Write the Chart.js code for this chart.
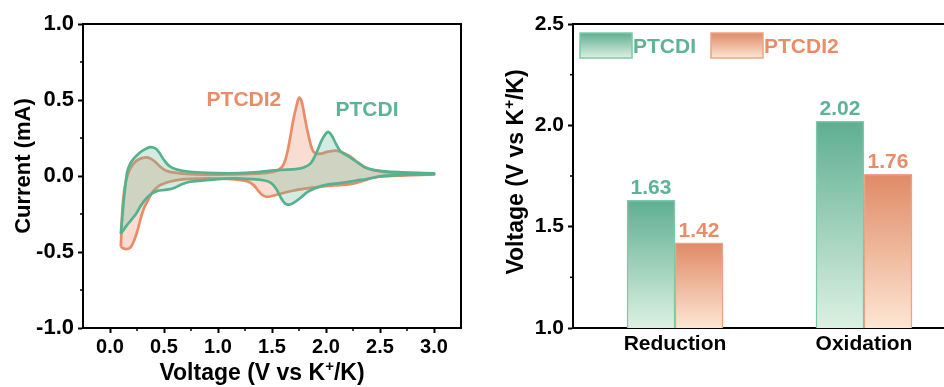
<!DOCTYPE html>
<html><head><meta charset="utf-8">
<script src="https://cdn.jsdelivr.net/npm/chart.js@4"></script>
<style>
html,body{margin:0;padding:0;background:#fff;overflow:hidden;width:944px;height:387px;}
#wrap{position:relative;width:944px;height:387px;overflow:hidden;}
#c1{position:absolute;left:0;top:0;}
#c2{position:absolute;left:480px;top:0;}
</style></head><body>
<div id="wrap"><canvas id="c1" width="480" height="387"></canvas><canvas id="c2" width="520" height="387"></canvas></div>
<script>
// ---- CV curves (closed loops: anodic scan then cathodic scan) ----
const ptcdiVoltage = [0.10,0.11,0.12,0.135,0.16,0.19,0.22,0.27,0.31,0.37,0.42,0.46,0.50,0.55,0.62,0.74,0.90,1.10,1.30,1.45,1.60,1.72,1.80,1.86,1.91,1.96,2.00,2.02,2.05,2.09,2.13,2.18,2.24,2.30,2.36,2.44,2.55,2.70,2.85,3.00,
  3.00,2.85,2.70,2.55,2.46,2.38,2.28,2.15,2.00,1.90,1.83,1.77,1.71,1.66,1.62,1.58,1.54,1.49,1.42,1.30,1.15,1.00,0.85,0.74,0.66,0.58,0.50,0.44,0.39,0.34,0.29,0.24,0.19,0.15,0.12,0.10];
const ptcdiCurrent = [-0.38,-0.30,-0.22,-0.11,0.03,0.085,0.115,0.15,0.17,0.19,0.182,0.15,0.105,0.065,0.042,0.028,0.021,0.018,0.022,0.032,0.040,0.045,0.058,0.085,0.15,0.235,0.28,0.29,0.27,0.215,0.165,0.14,0.115,0.085,0.058,0.040,0.030,0.024,0.020,0.018,
  0.012,0.010,0.007,0.002,-0.007,-0.020,-0.030,-0.045,-0.058,-0.080,-0.105,-0.140,-0.172,-0.188,-0.180,-0.140,-0.085,-0.045,-0.028,-0.020,-0.016,-0.020,-0.030,-0.038,-0.056,-0.082,-0.092,-0.098,-0.115,-0.145,-0.19,-0.25,-0.295,-0.33,-0.36,-0.38];
const ptcdi2Voltage = [0.10,0.105,0.11,0.12,0.14,0.17,0.21,0.26,0.31,0.34,0.38,0.42,0.47,0.52,0.60,0.75,0.95,1.15,1.30,1.42,1.51,1.57,1.61,1.64,1.67,1.70,1.73,1.75,1.77,1.79,1.81,1.84,1.87,1.90,1.95,2.02,2.09,2.15,2.22,2.29,2.36,2.44,2.55,2.70,2.85,3.00,
  3.00,2.80,2.60,2.50,2.42,2.36,2.28,2.19,2.08,1.97,1.82,1.67,1.56,1.49,1.45,1.41,1.37,1.33,1.27,1.20,1.05,0.90,0.75,0.65,0.56,0.50,0.45,0.40,0.37,0.34,0.31,0.28,0.25,0.22,0.19,0.16,0.13,0.11,0.10];
const ptcdi2Current = [-0.465,-0.38,-0.28,-0.17,-0.06,0.02,0.075,0.107,0.12,0.122,0.113,0.092,0.058,0.035,0.022,0.012,0.009,0.010,0.013,0.018,0.026,0.045,0.08,0.15,0.26,0.38,0.47,0.515,0.50,0.44,0.36,0.26,0.18,0.15,0.147,0.16,0.167,0.155,0.13,0.092,0.058,0.038,0.026,0.019,0.016,0.014,
  0.010,0.006,0.000,-0.005,-0.015,-0.028,-0.046,-0.057,-0.062,-0.069,-0.081,-0.100,-0.120,-0.133,-0.137,-0.125,-0.095,-0.060,-0.035,-0.026,-0.018,-0.016,-0.019,-0.024,-0.036,-0.050,-0.066,-0.100,-0.135,-0.175,-0.22,-0.29,-0.37,-0.43,-0.47,-0.48,-0.478,-0.47,-0.465];
const cvXTicks = [0, 0.5, 1.0, 1.5, 2.0, 2.5, 3.0];
const cvYTicks = [-1.0, -0.5, 0.0, 0.5, 1.0];

// ---- Bar chart ----
const categories = ['Reduction', 'Oxidation'];
const ptcdiPotential = [1.63, 2.02];
const ptcdi2Potential = [1.42, 1.76];
const barYTicks = [1.0, 1.5, 2.0, 2.5];

const FONT = '"Liberation Sans", Arial, Helvetica, sans-serif';
const GREEN_LINE = '#56b28e', ORANGE_LINE = '#e98c69';
const GREEN_FILL = 'rgba(98,184,150,0.28)', ORANGE_FILL = 'rgba(236,142,108,0.30)';
const GREEN_TEXT = '#5db394', ORANGE_TEXT = '#e88d69';
const G_TOP = '#5fae93', G_BOT = '#dcf1e1', O_TOP = '#e08a66', O_BOT = '#fde6d3';
const G_BORDER = '#7cc9aa', O_BORDER = '#eea383';

function toXY(xs, ys) { return xs.map((v, i) => ({x: v, y: ys[i]})); }

function drawKTitle(ctx, cx, baseline, rotated) {
  const parts = [['Voltage (V vs K', 23, 0], ['+', 15, -9], ['/K)', 23, 0]];
  ctx.save();
  ctx.fillStyle = '#000';
  ctx.textBaseline = 'alphabetic';
  ctx.textAlign = 'left';
  let total = 0;
  const ws = parts.map(p => { ctx.font = `bold ${p[1]}px ${FONT}`; const w = ctx.measureText(p[0]).width; total += w; return w; });
  if (rotated) { ctx.translate(baseline, cx); ctx.rotate(-Math.PI / 2); }
  else { ctx.translate(cx, baseline); }
  let xx = -total / 2;
  parts.forEach((p, i) => { ctx.font = `bold ${p[1]}px ${FONT}`; ctx.fillText(p[0], xx, p[2]); xx += ws[i]; });
  ctx.restore();
}

function seg(ctx, x1, y1, x2, y2) { ctx.beginPath(); ctx.moveTo(x1, y1); ctx.lineTo(x2, y2); ctx.stroke(); }

// ---------------- Left: CV chart ----------------
const cvPlugin = {
  id: 'cvDecor',
  afterDraw(chart) {
    const {ctx, chartArea: a, scales: {x, y}} = chart;
    ctx.save();
    ctx.strokeStyle = '#000'; ctx.lineWidth = 2;
    ctx.beginPath(); ctx.moveTo(a.left, a.top); ctx.lineTo(a.right, a.top); ctx.lineTo(a.right, a.bottom); ctx.stroke();
    ctx.lineWidth = 1.5;
    for (let i = 0; i < cvXTicks.length - 1; i++) {
      const px = x.getPixelForValue((cvXTicks[i] + cvXTicks[i + 1]) / 2);
      seg(ctx, px, a.bottom, px, a.bottom + 3);
    }
    for (let i = 0; i < cvYTicks.length - 1; i++) {
      const py = y.getPixelForValue((cvYTicks[i] + cvYTicks[i + 1]) / 2);
      seg(ctx, a.left, py, a.left - 3, py);
    }
    drawKTitle(ctx, 262, 380, false);
    ctx.save();
    ctx.translate(30, 166); ctx.rotate(-Math.PI / 2);
    ctx.font = `bold 22px ${FONT}`; ctx.fillStyle = '#000'; ctx.textAlign = 'center'; ctx.textBaseline = 'alphabetic';
    ctx.fillText('Current (mA)', 0, 0);
    ctx.restore();
    ctx.font = `bold 21px ${FONT}`; ctx.textAlign = 'center'; ctx.textBaseline = 'middle';
    ctx.fillStyle = ORANGE_TEXT; ctx.fillText('PTCDI2', x.getPixelForValue(1.24), y.getPixelForValue(0.50));
    ctx.fillStyle = GREEN_TEXT; ctx.fillText('PTCDI', x.getPixelForValue(2.38), y.getPixelForValue(0.435));
    ctx.restore();
  }
};

new Chart(document.getElementById('c1'), {
  type: 'scatter',
  data: {
    datasets: [
      {label: 'PTCDI', data: toXY(ptcdiVoltage, ptcdiCurrent), showLine: true, fill: 'shape',
       borderColor: GREEN_LINE, backgroundColor: GREEN_FILL, borderWidth: 2.7, tension: 0.35, pointRadius: 0},
      {label: 'PTCDI2', data: toXY(ptcdi2Voltage, ptcdi2Current), showLine: true, fill: 'shape',
       borderColor: ORANGE_LINE, backgroundColor: ORANGE_FILL, borderWidth: 2.7, tension: 0.35, pointRadius: 0}
    ]
  },
  options: {
    responsive: false, animation: false, devicePixelRatio: 1,
    layout: {padding: {left: 0, top: 24, right: 19, bottom: 0}},
    plugins: {legend: {display: false}, tooltip: {enabled: false}},
    scales: {
      x: {type: 'linear', min: -0.25, max: 3.25,
          afterBuildTicks: s => { s.ticks = cvXTicks.map(v => ({value: v})); },
          afterFit: s => { s.height = 59; },
          grid: {display: true, drawOnChartArea: false, drawTicks: true, tickLength: 5, tickWidth: 2, tickColor: '#000'},
          border: {display: true, color: '#000', width: 2},
          ticks: {padding: 2, color: '#000', font: {family: FONT, size: 20, weight: 'bold'}, maxRotation: 0, autoSkip: false, callback: v => Number(v).toFixed(1)}},
      y: {type: 'linear', min: -1, max: 1,
          afterBuildTicks: s => { s.ticks = cvYTicks.map(v => ({value: v})); },
          afterFit: s => { s.width = 83; },
          grid: {display: true, drawOnChartArea: false, drawTicks: true, tickLength: 5, tickWidth: 2, tickColor: '#000'},
          border: {display: true, color: '#000', width: 2},
          ticks: {padding: 4, color: '#000', font: {family: FONT, size: 22, weight: 'bold'}, autoSkip: false, callback: v => Number(v).toFixed(1)}}
    }
  },
  plugins: [cvPlugin]
});

// ---------------- Right: bar chart ----------------
function barGradient(top, bottom) {
  return (c) => {
    const chart = c.chart, a = chart.chartArea;
    if (!a || !c.raw || c.raw.y == null) return top;
    const yTop = chart.scales.y.getPixelForValue(c.raw.y);
    const g = chart.ctx.createLinearGradient(0, yTop, 0, a.bottom);
    g.addColorStop(0, top); g.addColorStop(1, bottom);
    return g;
  };
}

const barPlugin = {
  id: 'barDecor',
  afterDatasetsDraw(chart) {
    const {ctx} = chart;
    ctx.save();
    ctx.font = `bold 21px ${FONT}`; ctx.textAlign = 'center'; ctx.textBaseline = 'alphabetic';
    chart.data.datasets.forEach((ds, di) => {
      const meta = chart.getDatasetMeta(di);
      ctx.fillStyle = di === 0 ? GREEN_TEXT : ORANGE_TEXT;
      meta.data.forEach((el, i) => { ctx.fillText(ds.data[i].y.toFixed(2), el.x, el.y - 6); });
    });
    ctx.restore();
  },
  afterDraw(chart) {
    const {ctx, chartArea: a, scales: {y}} = chart;
    ctx.save();
    ctx.strokeStyle = '#000'; ctx.lineWidth = 2;
    seg(ctx, a.left, a.top, chart.width, a.top);
    ctx.lineWidth = 1.5;
    for (let i = 0; i < barYTicks.length - 1; i++) {
      const py = y.getPixelForValue((barYTicks[i] + barYTicks[i + 1]) / 2);
      seg(ctx, a.left, py, a.left - 3, py);
    }
    drawKTitle(ctx, 172, 43, true);
    // legend
    const items = [['PTCDI', G_TOP, G_BOT, G_BORDER, GREEN_TEXT, 100], ['PTCDI2', O_TOP, O_BOT, O_BORDER, ORANGE_TEXT, 231]];
    items.forEach(([txt, t, b, bc, tc, lx]) => {
      const g = ctx.createLinearGradient(0, 33, 0, 58);
      g.addColorStop(0, t); g.addColorStop(1, b);
      ctx.fillStyle = g; ctx.fillRect(lx, 33, 52, 25);
      ctx.strokeStyle = bc; ctx.lineWidth = 1.5; ctx.strokeRect(lx, 33, 52, 25);
      ctx.font = `bold 21px ${FONT}`; ctx.fillStyle = tc; ctx.textAlign = 'left'; ctx.textBaseline = 'middle';
      ctx.fillText(txt, lx + 53, 47);
    });
    ctx.restore();
  }
};

new Chart(document.getElementById('c2'), {
  type: 'bar',
  data: {
    datasets: [
      {label: 'PTCDI', data: categories.map((c, i) => ({x: i + 1, y: ptcdiPotential[i]})),
       backgroundColor: barGradient(G_TOP, G_BOT), borderColor: G_BORDER, borderWidth: 1.5, barThickness: 48},
      {label: 'PTCDI2', data: categories.map((c, i) => ({x: i + 1, y: ptcdi2Potential[i]})),
       backgroundColor: barGradient(O_TOP, O_BOT), borderColor: O_BORDER, borderWidth: 1.5, barThickness: 48}
    ]
  },
  options: {
    responsive: false, animation: false, devicePixelRatio: 1,
    layout: {padding: {left: 0, top: 24, right: 34, bottom: 0}},
    plugins: {legend: {display: false}, tooltip: {enabled: false}},
    scales: {
      x: {type: 'linear', min: 0.46, max: 2.54, offset: false,
          afterBuildTicks: s => { s.ticks = categories.map((c, i) => ({value: i + 1})); },
          afterFit: s => { s.height = 59; },
          grid: {display: true, offset: false, drawOnChartArea: false, drawTicks: false},
          border: {display: true, color: '#000', width: 2},
          ticks: {padding: 4, color: '#000', font: {family: FONT, size: 21, weight: 'bold'}, maxRotation: 0, autoSkip: false,
                  callback: v => categories[Math.round(v) - 1]}},
      y: {type: 'linear', min: 1.0, max: 2.5,
          afterBuildTicks: s => { s.ticks = barYTicks.map(v => ({value: v})); },
          afterFit: s => { s.width = 93; },
          grid: {display: true, drawOnChartArea: false, drawTicks: true, tickLength: 5, tickWidth: 2, tickColor: '#000'},
          border: {display: true, color: '#000', width: 2},
          ticks: {padding: 4, color: '#000', font: {family: FONT, size: 21, weight: 'bold'}, autoSkip: false, callback: v => Number(v).toFixed(1)}}
    }
  },
  plugins: [barPlugin]
});
</script>
</body></html>
